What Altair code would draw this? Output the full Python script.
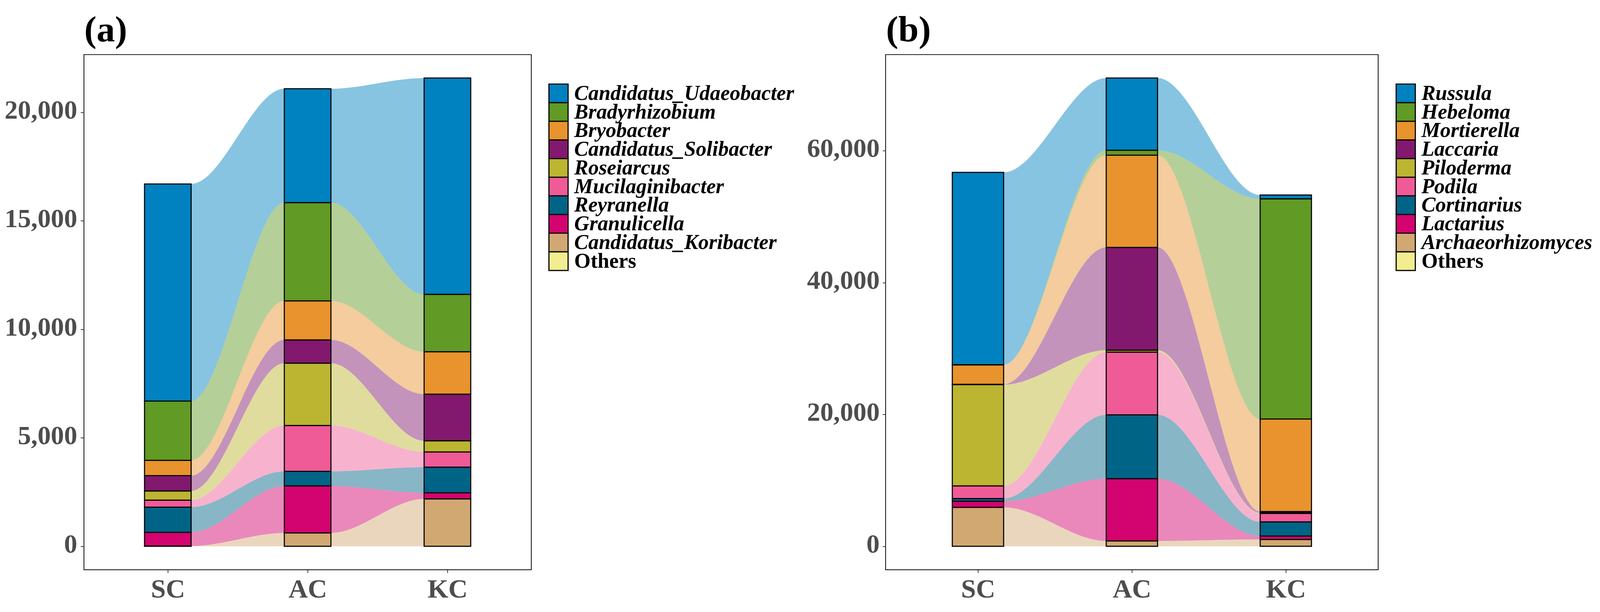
import json
import altair as alt
import pandas as pd

# ---------------- data ----------------
sites = ["SC", "AC", "KC"]
panel_labels = ["(a)", "(b)"]

bac_taxa = ["Candidatus_Udaeobacter", "Bradyrhizobium", "Bryobacter",
            "Candidatus_Solibacter", "Roseiarcus", "Mucilaginibacter",
            "Reyranella", "Granulicella", "Candidatus_Koribacter", "Others"]
bac_SC = [10010, 2730, 705, 705, 423, 322, 1162, 630, 15, 0]
bac_AC = [5251, 4528, 1797, 1075, 2872, 2114, 670, 2167, 617, 0]
bac_KC = [9973, 2643, 1956, 2150, 511, 705, 1180, 282, 2185, 0]

fun_taxa = ["Russula", "Hebeloma", "Mortierella", "Laccaria", "Piloderma",
            "Podila", "Cortinarius", "Lactarius", "Archaeorhizomyces", "Others"]
fun_SC = [29159, 30, 2957, 40, 15362, 1913, 406, 927, 5913, 0]
fun_AC = [10956, 754, 13970, 15594, 290, 9507, 9681, 9449, 812, 0]
fun_KC = [579, 33391, 14029, 190, 100, 1275, 2145, 522, 1043, 0]

bac_ticks = [0, 5000, 10000, 15000, 20000]
fun_ticks = [0, 20000, 40000, 60000]

palette = ["#0081C0", "#619A24", "#E8932E", "#82196E", "#BBB531",
           "#EF5B97", "#006486", "#D3036F", "#D2A872", "#F2EE90"]

FONT = "Liberation Serif"
PLOT_H = 1346
BAR_W = 1 / 3


def build_panel(title, taxa, site_values, width, ticks, tick_size, label_pad,
                zero_label, legend_x):
    bar_rows, flow_rows = [], []
    for i, (site, vals) in enumerate(zip(sites, site_values)):
        lo = 0
        for t, v in reversed(list(zip(taxa, vals))):
            hi = lo + v
            x0, x1 = i + 1 - BAR_W / 2, i + 1 + BAR_W / 2
            bar_rows.append(dict(taxon=t, site=site, x0=x0, x1=x1, lo=lo, hi=hi))
            for xx in (x0, x1):
                flow_rows.append(dict(taxon=t, x=xx, lo=lo, hi=hi))
            lo = hi
    bars_df = pd.DataFrame(bar_rows)
    flow_df = pd.DataFrame(flow_rows)
    ymax = max(sum(v) for v in site_values)

    xs = alt.Scale(domain=[0.4, len(sites) + 0.6], nice=False, zero=False)
    ys = alt.Scale(domain=[-0.05 * ymax, 1.05 * ymax], nice=False, zero=False)
    cs = alt.Scale(domain=taxa, range=palette)

    if zero_label:
        ylab = "datum.value == 0 ? '0\u00a0' : format(datum.value, ',')"
    else:
        ylab = "format(datum.value, ',')"

    xaxis = alt.Axis(values=list(range(1, len(sites) + 1)),
                     labelExpr=json.dumps(sites) + "[round(datum.value) - 1]",
                     title=None, labelFontSize=70, tickSize=8,
                     labelPadding=64, labelBaseline="alphabetic",
                     labelLimit=400)
    yaxis = alt.Axis(values=ticks, labelExpr=ylab, title=None,
                     labelFontSize=69, tickSize=tick_size,
                     labelPadding=label_pad, labelBaseline="alphabetic",
                     labelOffset=16, labelLimit=400)

    flows = alt.Chart(flow_df).mark_area(interpolate="monotone", opacity=0.47).encode(
        x=alt.X("x:Q", scale=xs, axis=xaxis),
        y=alt.Y("lo:Q", scale=ys, axis=yaxis, stack=None),
        y2="hi:Q",
        color=alt.Color("taxon:N", scale=cs, legend=None),
    )
    bars = alt.Chart(bars_df).mark_rect(stroke="black", strokeWidth=2.8).encode(
        x=alt.X("x0:Q", scale=xs),
        x2="x1:Q",
        y=alt.Y("lo:Q", scale=ys, stack=None),
        y2="hi:Q",
        color=alt.Color("taxon:N", scale=cs, legend=None),
    )
    tag = alt.Chart(pd.DataFrame({"label": [title]})).mark_text(
        align="left", baseline="top", font=FONT, fontSize=96,
        fontWeight="bold", color="black"
    ).encode(x=alt.value(1), y=alt.value(-111), text="label:N")
    data_layer = alt.layer(flows, bars, tag)

    leg_df = pd.DataFrame({"taxon": taxa})
    leg_y = alt.Y("taxon:N",
                  scale=alt.Scale(domain=taxa, range=[77, 564],
                                  paddingInner=0, paddingOuter=0),
                  axis=None)
    keys = alt.Chart(leg_df).mark_rect(stroke="black", strokeWidth=3).encode(
        x=alt.value(legend_x), x2=alt.value(legend_x + 50), y=leg_y,
        color=alt.Color("taxon:N", scale=cs, legend=None),
    )
    txt_italic = alt.Chart(leg_df).transform_filter(
        alt.datum.taxon != "Others"
    ).mark_text(align="left", baseline="middle", font=FONT, fontSize=55,
                fontWeight="bold", fontStyle="italic", color="black").encode(
        x=alt.value(legend_x + 66), y=leg_y, text="taxon:N")
    txt_plain = alt.Chart(leg_df).transform_filter(
        alt.datum.taxon == "Others"
    ).mark_text(align="left", baseline="middle", font=FONT, fontSize=55,
                fontWeight="bold", color="black").encode(
        x=alt.value(legend_x + 66), y=leg_y, text="taxon:N")
    legend_layer = alt.layer(keys, txt_italic, txt_plain)

    return alt.layer(data_layer, legend_layer).resolve_scale(
        y="independent"
    ).properties(width=width, height=PLOT_H)


panel_a = build_panel(panel_labels[0], bac_taxa, [bac_SC, bac_AC, bac_KC], 1168,
                      bac_ticks, 9, 9, True, 1214)
panel_b = build_panel(panel_labels[1], fun_taxa, [fun_SC, fun_AC, fun_KC], 1286,
                      fun_ticks, 8, 8, False, 1333)

chart = alt.hconcat(panel_a, panel_b, spacing=30).properties(
    padding={"left": 2, "top": 6, "right": 10, "bottom": 10}
).configure_view(
    stroke="black", strokeWidth=2
).configure_axis(
    grid=False, domain=False, tickColor="#333333", tickWidth=2,
    labelFont=FONT, labelFontWeight="bold", labelColor="#4D4D4D",
)

chart.save("out.html", embed_options={"renderer": "svg", "actions": False})
